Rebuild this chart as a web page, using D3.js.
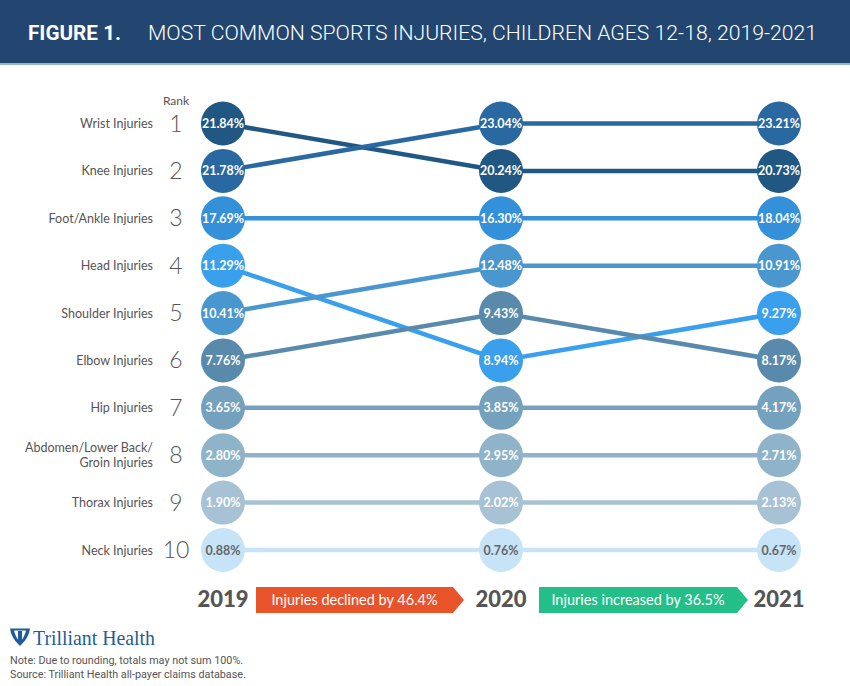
<!DOCTYPE html>
<html><head><meta charset="utf-8">
<script src="https://cdn.jsdelivr.net/npm/d3@7"></script>
<style>
html,body{margin:0;padding:0;background:#fff;}
svg{display:block;}
</style></head>
<body>
<svg id="chart" width="850" height="686"></svg>
<script>
// ---- DATA ----
const years = ["2019", "2020", "2021"];
const injuries = ["Wrist Injuries", "Knee Injuries", "Foot/Ankle Injuries", "Head Injuries", "Shoulder Injuries",
  "Elbow Injuries", "Hip Injuries", "Abdomen/Lower Back/|Groin Injuries", "Thorax Injuries", "Neck Injuries"];
const rank2019 = [1, 2, 3, 4, 5, 6, 7, 8, 9, 10];
const rank2020 = [2, 1, 3, 6, 4, 5, 7, 8, 9, 10];
const rank2021 = [2, 1, 3, 5, 4, 6, 7, 8, 9, 10];
const value2019 = [21.84, 21.78, 17.69, 11.29, 10.41, 7.76, 3.65, 2.80, 1.90, 0.88];
const value2020 = [20.24, 23.04, 16.30, 8.94, 12.48, 9.43, 3.85, 2.95, 2.02, 0.76];
const value2021 = [20.73, 23.21, 18.04, 9.27, 10.91, 8.17, 4.17, 2.71, 2.13, 0.67];
const colors = ["#215883", "#2968a0", "#3390d9", "#3a9fec", "#4a97cf", "#5a8aab", "#74a1bd", "#8fb3c8", "#a7c2d4", "#c7e3f8"];
const changeLabels = ["Injuries declined by 46.4%", "Injuries increased by 36.5%"];
const changeColors = ["#e8532a", "#24bf88"];
const title = "MOST COMMON SPORTS INJURIES, CHILDREN AGES 12-18, 2019-2021";
const notes = ["Note: Due to rounding, totals may not sum 100%.", "Source: Trilliant Health all-payer claims database."];

const ranks = [rank2019, rank2020, rank2021];
const values = [value2019, value2020, value2021];

const svg = d3.select("#chart");
const W = 850;

// header
svg.append("rect").attr("x", 0).attr("y", 0).attr("width", W).attr("height", 64).attr("fill", "#22466f");
svg.append("rect").attr("x", 0).attr("y", 63).attr("width", W).attr("height", 2).attr("fill", "#8fb5d6");
svg.append("text").attr("x", 28).attr("y", 40).attr("fill", "#fff")
  .attr("font-family", "Roboto, sans-serif").attr("font-weight", 700).attr("font-size", 20)
  .attr("textLength", 93).attr("lengthAdjust", "spacingAndGlyphs").text("FIGURE 1.");
svg.append("text").attr("x", 148).attr("y", 40).attr("fill", "#fff")
  .attr("font-family", "Roboto, sans-serif").attr("font-weight", 300).attr("font-size", 20)
  .attr("textLength", 669).attr("lengthAdjust", "spacingAndGlyphs").text(title);

// scales
const x = d3.scalePoint().domain(years).range([223, 779]);
const y = d3.scaleLinear().domain([1, 10]).range([123.5, 550]);
const R = 22;

// row labels and rank numbers
svg.append("text").attr("x", 176).attr("y", 105).attr("text-anchor", "middle")
  .attr("font-family", "Lato, sans-serif").attr("font-size", 12).attr("fill", "#555").text("Rank");

injuries.forEach((name, i) => {
  const r = rank2019[i];
  const parts = name.split("|");
  const t = svg.append("text").attr("x", 153).attr("text-anchor", "end")
    .attr("font-family", "Lato, sans-serif").attr("font-size", 12.5).attr("fill", "#555");
  if (parts.length === 1) {
    t.attr("y", y(r) + 4.5).text(parts[0]);
  } else {
    t.append("tspan").attr("x", 153).attr("y", y(r) - 3).text(parts[0]);
    t.append("tspan").attr("x", 153).attr("y", y(r) + 11.5).text(parts[1]);
  }
  svg.append("text").attr("x", 176).attr("y", y(r) + 8).attr("text-anchor", "middle")
    .attr("font-family", "Lato, sans-serif").attr("font-weight", 300).attr("font-size", 23).attr("fill", "#555")
    .text(r);
});

// lines
const line = d3.line().x(d => x(d.year)).y(d => y(d.rank));
const series = injuries.map((name, i) => ({
  name, color: colors[i],
  pts: years.map((yr, j) => ({ year: yr, rank: ranks[j][i], value: values[j][i] }))
}));

svg.append("g").selectAll("path").data(series).join("path")
  .attr("d", d => line(d.pts)).attr("fill", "none")
  .attr("stroke", d => d.color).attr("stroke-width", 4.5);

// circles
const nodes = series.flatMap((s, i) => s.pts.map(p => ({ ...p, color: s.color, idx: i })));
const g = svg.append("g").selectAll("g").data(nodes).join("g")
  .attr("transform", d => `translate(${x(d.year)},${y(d.rank)})`);
g.append("circle").attr("r", R).attr("fill", d => d.color);
g.append("text").attr("text-anchor", "middle").attr("y", 4.5)
  .attr("font-family", "Lato, sans-serif").attr("font-weight", 700).attr("font-size", 12.5)
  .attr("fill", d => d.idx === 9 ? "#666" : "#fff")
  .text(d => d.value.toFixed(2) + "%");

// year labels
svg.append("g").selectAll("text").data(years).join("text")
  .attr("x", d => x(d)).attr("y", 607).attr("text-anchor", "middle")
  .attr("font-family", "Lato, sans-serif").attr("font-weight", 900).attr("font-size", 22).attr("fill", "#555")
  .text(d => d);

// change arrows
const arrows = [
  { x0: 256, x1: 453, tip: 464 },
  { x0: 539, x1: 737, tip: 748 }
];
arrows.forEach((a, i) => {
  const top = 587, bot = 613, mid = (top + bot) / 2;
  svg.append("path")
    .attr("d", `M${a.x0},${top}H${a.x1}L${a.tip},${mid}L${a.x1},${bot}H${a.x0}Z`)
    .attr("fill", changeColors[i]);
  svg.append("text").attr("x", (a.x0 + a.x1) / 2).attr("y", mid + 5).attr("text-anchor", "middle")
    .attr("font-family", "Lato, sans-serif").attr("font-size", 14.5).attr("fill", "#fff")
    .text(changeLabels[i]);
});

// logo
svg.append("path")
  .attr("d", "M10,628.5 H30 L29,633 C27,639 23,643 20,646 C17,643 13,639 11,633 Z")
  .attr("fill", "#1f5c99");
svg.append("path")
  .attr("d", "M14,630.5 H26 L25.3,633 C24,637 22,640 20,642.5 C18,640 16,637 14.7,633 Z")
  .attr("fill", "#fff");
svg.append("path")
  .attr("d", "M18,631 H22 V641 L20,643 L18,641 Z")
  .attr("fill", "#1f5c99");
svg.append("text").attr("x", 33).attr("y", 645)
  .attr("font-family", "Liberation Serif, serif").attr("font-size", 22).attr("fill", "#1f5c99")
  .attr("textLength", 122).attr("lengthAdjust", "spacingAndGlyphs").text("Trilliant Health");

// notes
notes.forEach((n, i) => {
  svg.append("text").attr("x", 10).attr("y", 664 + i * 13.5)
    .attr("font-family", "Roboto, sans-serif").attr("font-size", 10.8).attr("fill", "#555").text(n);
});
</script>
</body></html>
